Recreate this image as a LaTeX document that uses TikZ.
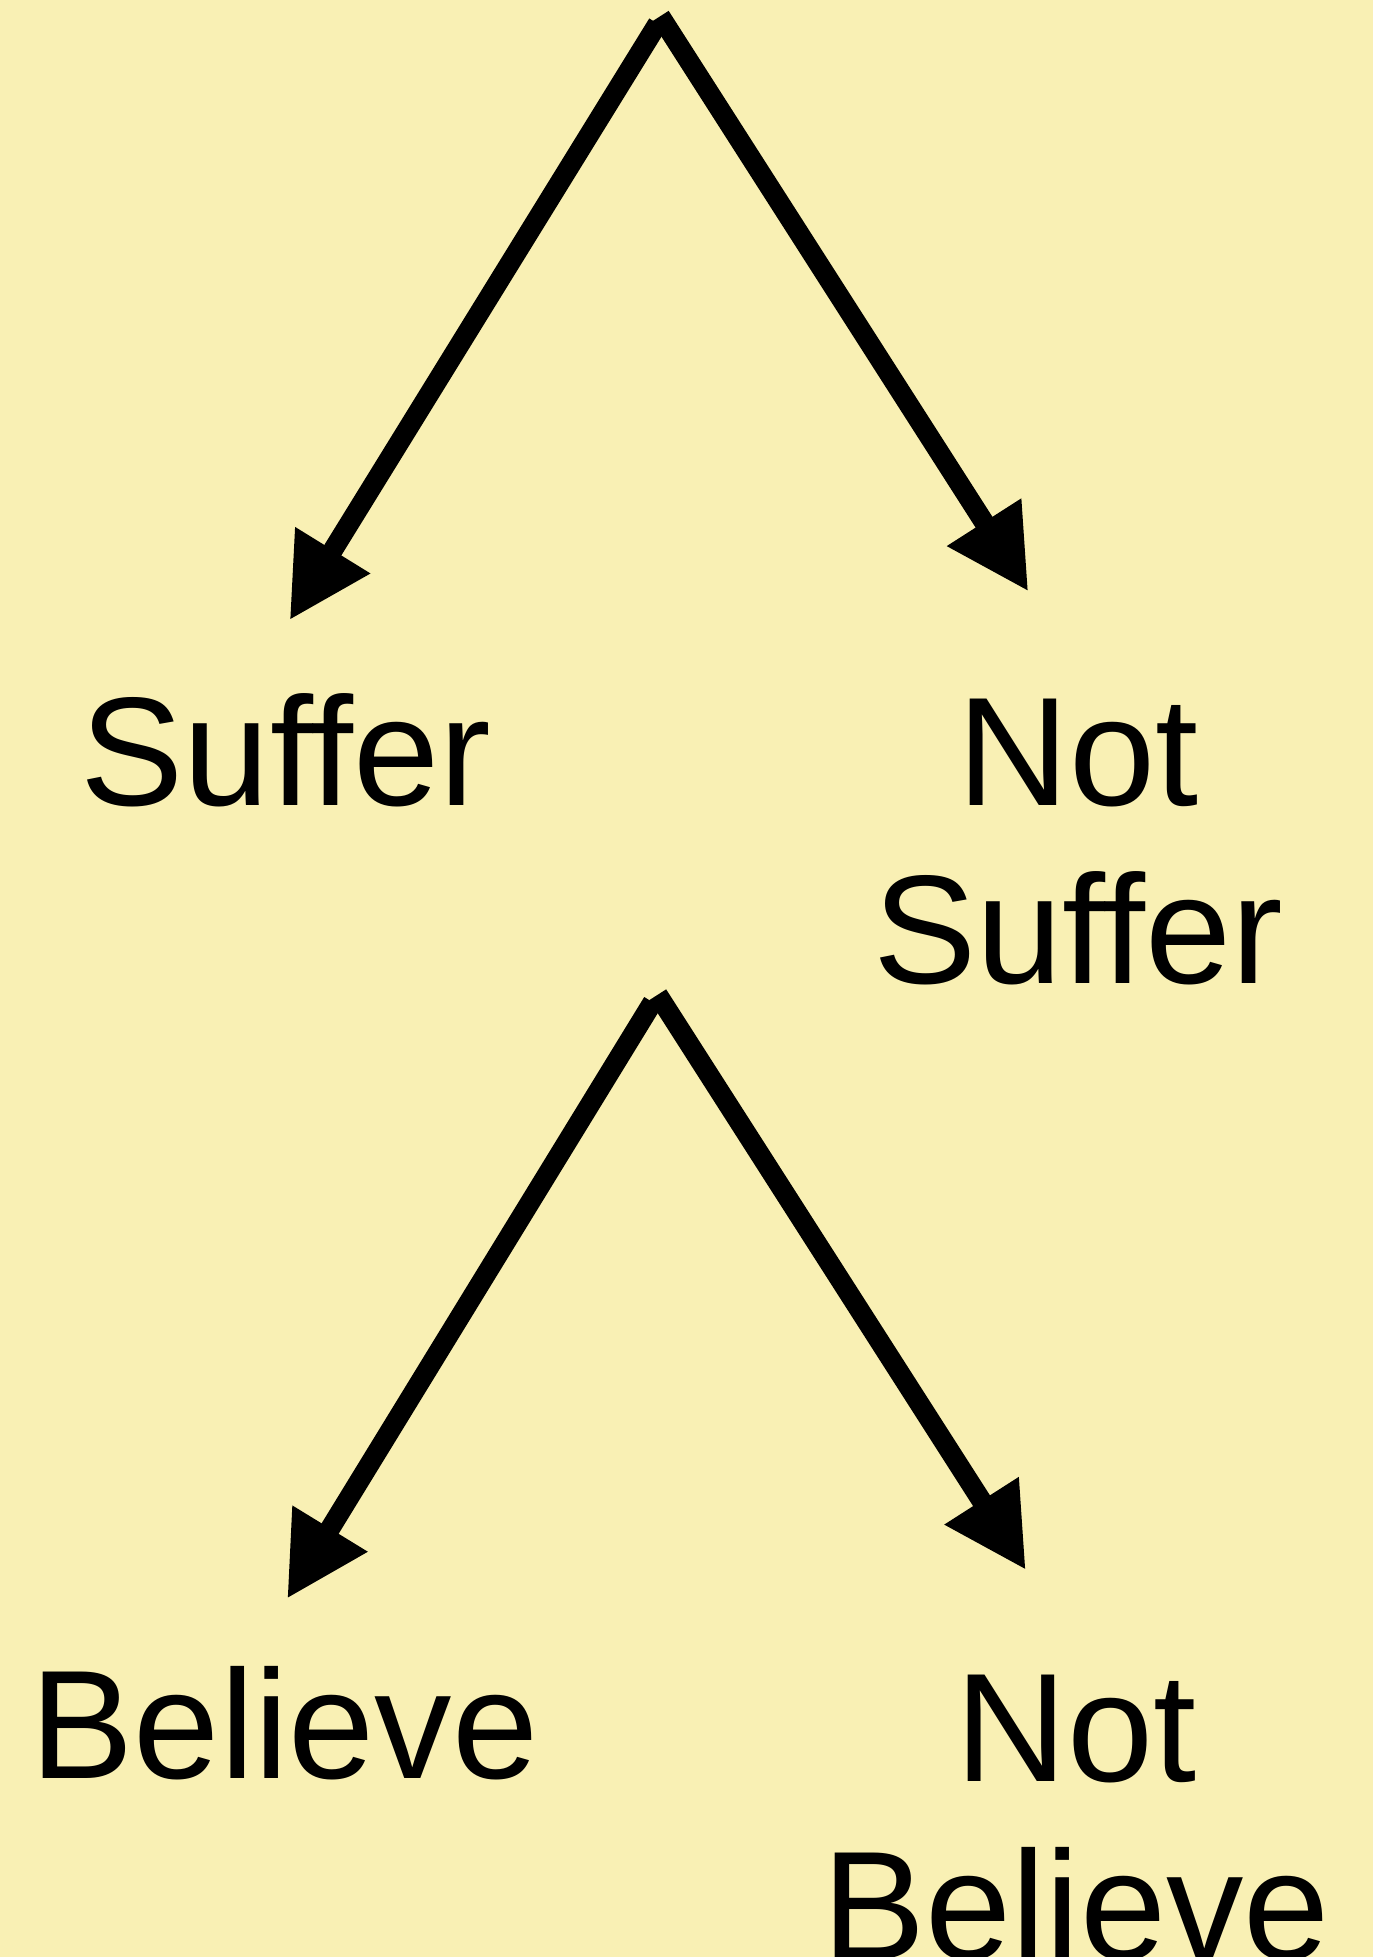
\documentclass[tikz,border=0pt]{standalone}
\usepackage{fontspec}
\setmainfont{Liberation Sans}
\usetikzlibrary{arrows.meta}
\definecolor{paper}{RGB}{249,240,180}
\begin{document}
\begin{tikzpicture}[x=1pt,y=-1pt,
		arr/.style={line width=16pt,-{Triangle[length=66pt,width=66pt]}},
		lbl/.style={anchor=base,align=center,inner sep=0pt,font=\fontsize{124}{143}\selectfont}]
		\fill[paper] (0,0) rectangle (1100,1568);
		\useasboundingbox (0,0) rectangle (1100,1568);
		% first split
		\coordinate (topl) at (527,19);
		\coordinate (topr) at (529,13);
		\coordinate (tipsuffer) at (232,497);
		\coordinate (tipnotsuffer) at (824,474);
		\draw[arr] (topl) -- (tipsuffer);
		\draw[arr] (topr) -- (tipnotsuffer);
		\node[lbl] (suffer) at (229,645) {Suffer};
		\node[lbl] (notsuffer) at (864,788) {Not\\Suffer};
		
		% second split
		\coordinate (midl) at (523,803);
		\coordinate (midr) at (527,797);
		\coordinate (tipbelieve) at (230,1281);
		\coordinate (tipnotbelieve) at (822,1258);
		\draw[arr] (midl) -- (tipbelieve);
		\draw[arr] (midr) -- (tipnotbelieve);
		\node[lbl] (believe) at (228,1425) {Believe};
		\node[lbl] (notbelieve) at (862,1570) {Not\\Believe};
		\end{tikzpicture}
\end{document}
